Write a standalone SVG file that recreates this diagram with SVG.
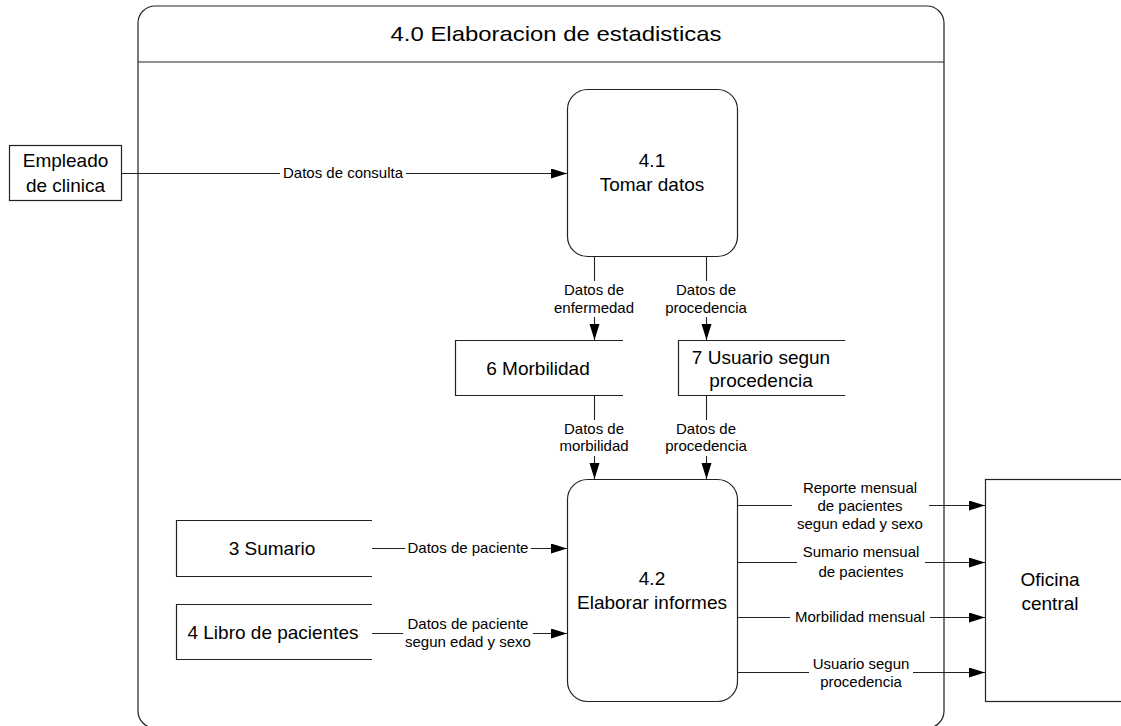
<svg xmlns="http://www.w3.org/2000/svg" width="1121" height="726" viewBox="0 0 1121 726">
  <style>
    .shape { fill: #ffffff; stroke: #222222; stroke-width: 1.2; }
    .store { fill: none; stroke: #222222; stroke-width: 1.2; }
    .flow { fill: none; stroke: #222222; stroke-width: 1.1; }
    .node { font-family: "Liberation Sans", Arial, sans-serif; font-size: 19px; fill: #000000; text-anchor: middle; }
    .lbl { font-family: "Liberation Sans", Arial, sans-serif; font-size: 15px; fill: #000000; text-anchor: middle; }
    .title { font-family: "Liberation Sans", Arial, sans-serif; font-size: 21px; fill: #000000; text-anchor: middle; }
    .bg { fill: #ffffff; stroke: none; }
  </style>
  <defs>
    <marker id="arrow" markerUnits="userSpaceOnUse" markerWidth="17" markerHeight="11" refX="16" refY="5" orient="auto">
      <path d="M0,0 L16,5 L0,10 z" fill="#000000"/>
    </marker>
  </defs>

  <rect width="1121" height="726" fill="#ffffff"/>

  <!-- process boundary 4.0 -->
  <g id="process-4-0">
    <rect class="shape" x="138" y="6" width="806" height="722" rx="17" ry="17"/>
    <line class="store" x1="138" y1="62" x2="944" y2="62"/>
    <text class="title" x="556" y="41" textLength="331" lengthAdjust="spacingAndGlyphs">4.0 Elaboracion de estadisticas</text>
  </g>

  <!-- external entity: Empleado de clinica -->
  <g id="empleado-clinica">
    <rect class="shape" x="9.5" y="145.5" width="112" height="55"/>
    <text class="node" x="65.5" y="167">Empleado</text>
    <text class="node" x="65.5" y="192">de clinica</text>
  </g>

  <!-- external entity: Oficina central -->
  <g id="oficina-central">
    <rect class="shape" x="985.5" y="479.5" width="150" height="222"/>
    <text class="node" x="1050" y="586">Oficina</text>
    <text class="node" x="1050" y="610">central</text>
  </g>

  <!-- process 4.1 -->
  <g id="proc-4-1">
    <rect class="shape" x="567.5" y="89.5" width="170" height="167" rx="20" ry="20"/>
    <text class="node" x="652" y="167">4.1</text>
    <text class="node" x="652" y="191">Tomar datos</text>
  </g>

  <!-- process 4.2 -->
  <g id="proc-4-2">
    <rect class="shape" x="567.5" y="479.5" width="170" height="222" rx="20" ry="20"/>
    <text class="node" x="652" y="585">4.2</text>
    <text class="node" x="652" y="609">Elaborar informes</text>
  </g>

  <!-- data stores -->
  <g id="store-6">
    <path class="store" d="M623,340.5 H455.5 V395.5 H623"/>
    <text class="node" x="538" y="375">6 Morbilidad</text>
  </g>
  <g id="store-7">
    <path class="store" d="M845,340.5 H678.5 V395.5 H845"/>
    <text class="node" x="761" y="364">7 Usuario segun</text>
    <text class="node" x="761" y="387">procedencia</text>
  </g>
  <g id="store-3">
    <path class="store" d="M372,520.5 H176.5 V576.5 H372"/>
    <text class="node" x="272" y="555">3 Sumario</text>
  </g>
  <g id="store-4">
    <path class="store" d="M372,604.5 H176.5 V659.5 H372"/>
    <text class="node" x="273" y="639">4 Libro de pacientes</text>
  </g>

  <!-- data flows -->
  <g id="connectors">
    <line class="flow" x1="122" y1="173.5" x2="567" y2="173.5" marker-end="url(#arrow)"/>
    <line class="flow" x1="594.5" y1="257" x2="594.5" y2="340" marker-end="url(#arrow)"/>
    <line class="flow" x1="706.5" y1="257" x2="706.5" y2="340" marker-end="url(#arrow)"/>
    <line class="flow" x1="594.5" y1="396" x2="594.5" y2="479" marker-end="url(#arrow)"/>
    <line class="flow" x1="706.5" y1="396" x2="706.5" y2="479" marker-end="url(#arrow)"/>
    <line class="flow" x1="372" y1="548.5" x2="567" y2="548.5" marker-end="url(#arrow)"/>
    <line class="flow" x1="372" y1="633.5" x2="567" y2="633.5" marker-end="url(#arrow)"/>
    <line class="flow" x1="738" y1="505.5" x2="985" y2="505.5" marker-end="url(#arrow)"/>
    <line class="flow" x1="738" y1="562.5" x2="985" y2="562.5" marker-end="url(#arrow)"/>
    <line class="flow" x1="738" y1="617.5" x2="985" y2="617.5" marker-end="url(#arrow)"/>
    <line class="flow" x1="738" y1="672.5" x2="985" y2="672.5" marker-end="url(#arrow)"/>

    <!-- flow labels -->
    <g>
      <rect class="bg" x="280" y="165" width="126" height="17"/>
      <text class="lbl" x="343" y="178">Datos de consulta</text>
    </g>
    <g>
      <rect class="bg" x="551" y="281" width="86" height="36"/>
      <text class="lbl" x="594" y="295">Datos de</text>
      <text class="lbl" x="594" y="313">enfermedad</text>
    </g>
    <g>
      <rect class="bg" x="662" y="281" width="88" height="36"/>
      <text class="lbl" x="706" y="295">Datos de</text>
      <text class="lbl" x="706" y="313">procedencia</text>
    </g>
    <g>
      <rect class="bg" x="554" y="420" width="80" height="36"/>
      <text class="lbl" x="594" y="434">Datos de</text>
      <text class="lbl" x="594" y="451">morbilidad</text>
    </g>
    <g>
      <rect class="bg" x="662" y="420" width="88" height="36"/>
      <text class="lbl" x="706" y="434">Datos de</text>
      <text class="lbl" x="706" y="451">procedencia</text>
    </g>
    <g>
      <rect class="bg" x="405" y="540" width="126" height="17"/>
      <text class="lbl" x="468" y="553">Datos de paciente</text>
    </g>
    <g>
      <rect class="bg" x="403" y="615" width="130" height="36"/>
      <text class="lbl" x="468" y="629">Datos de paciente</text>
      <text class="lbl" x="468" y="647">segun edad y sexo</text>
    </g>
    <g>
      <rect class="bg" x="792" y="479" width="137" height="54"/>
      <text class="lbl" x="860" y="493">Reporte mensual</text>
      <text class="lbl" x="860" y="511">de pacientes</text>
      <text class="lbl" x="860" y="529">segun edad y sexo</text>
    </g>
    <g>
      <rect class="bg" x="797" y="543" width="128" height="37"/>
      <text class="lbl" x="861" y="557">Sumario mensual</text>
      <text class="lbl" x="861" y="577">de pacientes</text>
    </g>
    <g>
      <rect class="bg" x="790" y="609" width="140" height="17"/>
      <text class="lbl" x="860" y="622">Morbilidad mensual</text>
    </g>
    <g>
      <rect class="bg" x="809" y="655" width="104" height="36"/>
      <text class="lbl" x="861" y="669">Usuario segun</text>
      <text class="lbl" x="861" y="687">procedencia</text>
    </g>
  </g>
</svg>
